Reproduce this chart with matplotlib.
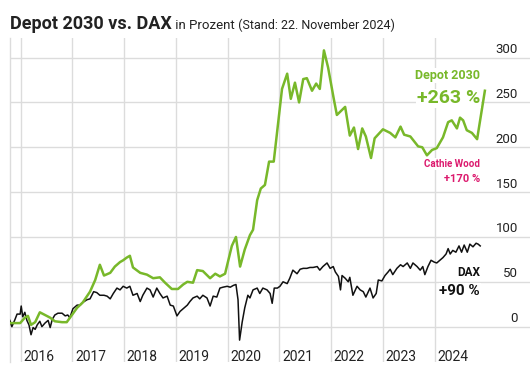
import matplotlib
matplotlib.use("Agg")
import matplotlib.pyplot as plt
import matplotlib.transforms as mtransforms
from matplotlib import font_manager

# decimal years / percent change
depot_t = [2015.79, 2015.99, 2016.08, 2016.14, 2016.20, 2016.28, 2016.37, 2016.47, 2016.57, 2016.66,
           2016.80, 2016.89, 2016.99, 2017.09, 2017.20, 2017.34, 2017.44, 2017.53, 2017.61, 2017.73,
           2017.82, 2017.92, 2017.98, 2018.05, 2018.11, 2018.17, 2018.31, 2018.44, 2018.56, 2018.69,
           2018.79, 2018.92, 2019.04, 2019.14, 2019.22, 2019.33, 2019.41, 2019.52, 2019.66, 2019.76,
           2019.85, 2019.95, 2020.00, 2020.08, 2020.16, 2020.24, 2020.33, 2020.43, 2020.49, 2020.57,
           2020.64, 2020.72, 2020.80, 2020.89, 2021.05, 2021.15, 2021.22, 2021.30, 2021.38, 2021.46,
           2021.53, 2021.63, 2021.71, 2021.78, 2021.86, 2021.94, 2022.05, 2022.11, 2022.27, 2022.36,
           2022.44, 2022.52, 2022.60, 2022.67, 2022.77, 2022.84, 2023.00, 2023.14, 2023.24, 2023.34,
           2023.41, 2023.53, 2023.68, 2023.76, 2023.85, 2023.95, 2024.04, 2024.16, 2024.26, 2024.33,
           2024.43, 2024.49, 2024.55, 2024.62, 2024.72, 2024.82, 2024.97]
depot_v = [4, 4, 10, 12, 2, 5, 16, 13, 10, 6,
           5, 5, 13, 21, 27, 39, 52, 69, 57, 60,
           67, 72, 74, 77, 79, 66, 60, 58, 54, 55,
           49, 42, 42, 47, 50, 49, 63, 62, 54, 59,
           56, 59, 71, 90, 100, 67, 86, 102, 108, 141,
           154, 158, 184, 184, 265, 282, 254, 272, 250, 276,
           277, 263, 271, 265, 308, 289, 254, 236, 245, 213,
           222, 198, 221, 212, 188, 210, 220, 216, 211, 223,
           214, 212, 201, 200, 191, 197, 199, 211, 228, 230,
           221, 233, 230, 219, 216, 209, 263]

dax_t = [2015.79, 2015.83, 2015.89, 2015.93, 2015.99, 2016.01, 2016.04, 2016.08, 2016.12, 2016.16,
         2016.20, 2016.24, 2016.28, 2016.32, 2016.37, 2016.41, 2016.47, 2016.53, 2016.57, 2016.61,
         2016.66, 2016.72, 2016.80, 2016.86, 2016.91, 2016.95, 2017.01, 2017.09, 2017.15, 2017.20,
         2017.28, 2017.34, 2017.41, 2017.47, 2017.53, 2017.61, 2017.67, 2017.73, 2017.79, 2017.86,
         2017.92, 2017.98, 2018.05, 2018.11, 2018.17, 2018.25, 2018.31, 2018.36, 2018.44, 2018.50,
         2018.56, 2018.63, 2018.69, 2018.75, 2018.83, 2018.89, 2018.95, 2019.02, 2019.08, 2019.14,
         2019.22, 2019.27, 2019.33, 2019.41, 2019.46, 2019.52, 2019.60, 2019.66, 2019.72, 2019.79,
         2019.85, 2019.91, 2019.99, 2020.05, 2020.11, 2020.16, 2020.20, 2020.23, 2020.28, 2020.33,
         2020.39, 2020.43, 2020.49, 2020.57, 2020.62, 2020.68, 2020.76, 2020.82, 2020.86, 2020.90,
         2020.96, 2021.01, 2021.07, 2021.15, 2021.20, 2021.26, 2021.34, 2021.40, 2021.46, 2021.53,
         2021.59, 2021.65, 2021.73, 2021.78, 2021.84, 2021.92, 2021.98, 2022.04, 2022.08, 2022.14,
         2022.18, 2022.21, 2022.27, 2022.33, 2022.36, 2022.42, 2022.50, 2022.56, 2022.62, 2022.67,
         2022.75, 2022.81, 2022.87, 2022.91, 2022.98, 2023.04, 2023.10, 2023.14, 2023.19, 2023.27,
         2023.34, 2023.39, 2023.47, 2023.53, 2023.58, 2023.66, 2023.72, 2023.77, 2023.81, 2023.87,
         2023.93, 2023.99, 2024.04, 2024.10, 2024.16, 2024.22, 2024.26, 2024.30, 2024.35, 2024.41,
         2024.47, 2024.52, 2024.57, 2024.63, 2024.68, 2024.74, 2024.80, 2024.84, 2024.88]
dax_v = [7, 0, 8, 14, 14, 23, 11, 16, 7, 2,
         -9, -1, -3, 2, 6, 0, 4, 7, -1, 8,
         13, 15, 15, 12, 13, 10, 20, 24, 24, 27,
         30, 31, 39, 38, 35, 35, 34, 31, 37, 43,
         41, 45, 43, 45, 35, 37, 28, 35, 43, 41,
         33, 43, 37, 32, 34, 24, 23, 12, 17, 20,
         24, 28, 32, 34, 31, 35, 32, 23, 34, 33,
         43, 44, 45, 44, 46, 47, 30, -15, 5, 21,
         35, 32, 41, 43, 37, 43, 41, 37, 26, 43,
         43, 45, 50, 48, 54, 63, 59, 64, 65, 65,
         66, 66, 67, 63, 67, 71, 65, 67, 61, 56,
         41, 57, 54, 50, 55, 35, 45, 41, 39, 33,
         43, 32, 37, 52, 51, 57, 61, 64, 58, 65,
         69, 67, 71, 65, 71, 67, 63, 67, 58, 67,
         74, 72, 71, 74, 77, 81, 87, 81, 85, 83,
         90, 83, 91, 83, 92, 89, 93, 92, 90]

years = [2016, 2017, 2018, 2019, 2020, 2021, 2022, 2023, 2024]
y_ticks = [0, 50, 100, 150, 200, 250, 300]

GREEN = "#78b82a"
PINK = "#dc1a6e"
GRID = "#dcdcdc"
TEXT = "#222222"


def pick_font(*names):
  for name in names:
    try:
      font_manager.findfont(name, fallback_to_default=False)
      return name
    except ValueError:
      pass
  return "DejaVu Sans"


narrow = pick_font("Liberation Sans Narrow", "Roboto")
body = pick_font("Roboto", "DejaVu Sans")
plt.rcParams["font.family"] = body

W, H = 530, 376
fig = plt.figure(figsize=(W / 100, H / 100), dpi=100)
# axes box in pixels: left 9.5, right 530, top 38, bottom 362
ax = fig.add_axes((9.5 / W, 14 / H, 520.5 / W, 324 / H))
ax.set_xlim(2015.784, 2025.842)
ax.set_ylim(-39.4, 321.8)

ax.set_xticks(years)
ax.set_yticks(y_ticks)
ax.tick_params(length=0, labelbottom=False, labelleft=False)
ax.grid(True, color=GRID, linewidth=1.0)
ax.set_axisbelow(True)
for side in ["top", "right", "bottom"]:
  ax.spines[side].set_visible(False)
ax.spines["left"].set_color(GRID)
ax.spines["left"].set_linewidth(1.0)

ax.plot(dax_t, dax_v, color="#111111", linewidth=1.1, solid_joinstyle="round", zorder=3)
ax.plot(depot_t, depot_v, color=GREEN, linewidth=1.8, solid_joinstyle="round", zorder=4)

# year labels sit inside the bottom of the plot, right of each gridline
xt = ax.get_xaxis_transform()
for y in years:
  ax.text(y + 0.05, 0.004, str(y), transform=xt, ha="left", va="baseline",
          fontsize=10, family=narrow, color=TEXT)

# value labels on the right, just above their gridlines
yt = mtransforms.blended_transform_factory(ax.transAxes, ax.transData)
for v in y_ticks:
  ax.text(0.977, v + 5, str(v), transform=yt, ha="right", va="baseline",
          fontsize=9.5, color=TEXT)

box = dict(facecolor="white", edgecolor="none", pad=0.6)
x_lab = 2024.875
ax.text(x_lab, 275.8, "Depot 2030", ha="right", va="baseline", fontsize=9,
        fontweight="bold", color=GREEN, bbox=box, zorder=5)
ax.text(x_lab, 249, "+263 %", ha="right", va="baseline", fontsize=14,
        fontweight="bold", color=GREEN, bbox=box, zorder=5)
ax.text(x_lab, 178.4, "Cathie Wood", ha="right", va="baseline", fontsize=7,
        fontweight="bold", color=PINK, bbox=box, zorder=5)
ax.text(x_lab, 161.6, "+170 %", ha="right", va="baseline", fontsize=8,
        fontweight="bold", color=PINK, bbox=box, zorder=5)
ax.text(x_lab, 56.5, "DAX", ha="right", va="baseline", fontsize=8.5,
        fontweight="bold", color="#111111", bbox=box, zorder=5)
ax.text(x_lab, 35.3, "+90 %", ha="right", va="baseline", fontsize=11,
        fontweight="bold", color="#111111", bbox=box, zorder=5)

# title, pieces chained one after the other
renderer = fig.canvas.get_renderer()
base_y = 1 - 28.7 / H
x = 10 / W
parts = [("Depot 2030 vs. DAX", 13, "bold"), (" in Prozent", 9.5, "normal"),
         (" (Stand: 22. November 2024)", 9, "normal")]
for txt, size, weight in parts:
  t = fig.text(x, base_y, txt, fontsize=size, fontweight=weight, color=TEXT,
               ha="left", va="baseline")
  bb = t.get_window_extent(renderer)
  x = bb.x1 / (W)

fig.savefig("out.png", dpi=100)
